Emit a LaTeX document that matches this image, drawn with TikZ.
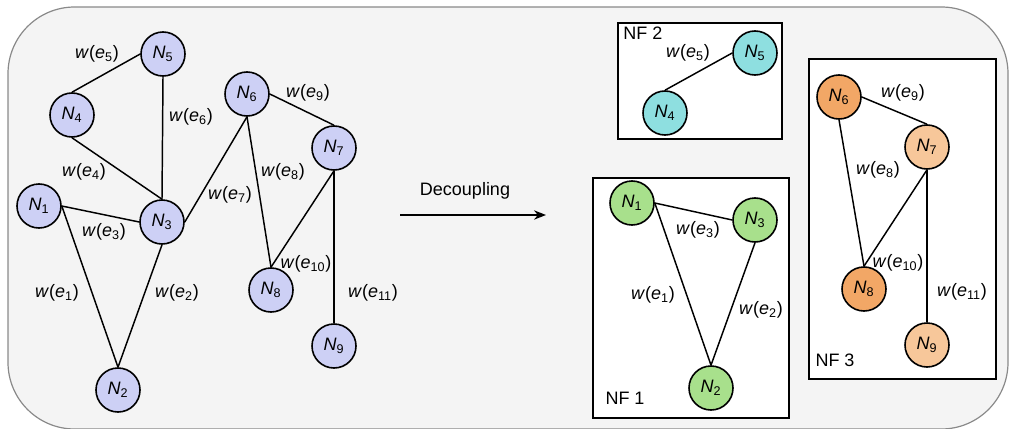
\documentclass[tikz,border=0pt]{standalone}
\usepackage{fontspec}
\setmainfont{Liberation Sans}
\usetikzlibrary{arrows.meta}
\definecolor{bgfill}{HTML}{F4F4F4}
\definecolor{bgline}{HTML}{8A8A8A}
\definecolor{lav}{HTML}{CDD0F5}
\definecolor{cyanf}{HTML}{8EDFE0}
\definecolor{greenf}{HTML}{A8E08C}
\definecolor{orgdark}{HTML}{F2A766}
\definecolor{orglight}{HTML}{F7C79A}
\newcommand{\nn}[1]{\textit{N}\textsubscript{#1}}
\newcommand{\wl}[1]{\textit{w}(\textit{e}\textsubscript{#1})}
\begin{document}
\begin{tikzpicture}[x=0.75pt,y=-0.75pt,
  font=\fontsize{13.5}{16}\selectfont,
  nd/.style={circle,draw=black,line width=1.2pt,minimum size=33pt,inner sep=0pt},
  lab/.style={inner sep=0pt},
  edge/.style={line width=1.1pt},
  nfbox/.style={draw=black,line width=1.4pt,fill=white}]
\useasboundingbox (0,0) rectangle (1009,428);
\draw[bgline,fill=bgfill,line width=0.9pt,rounded corners=50pt] (8,7) rectangle (1008,429);

% left graph
\node[nd,fill=lav] (n5) at (163,54) {\nn{5}};
\node[nd,fill=lav] (n4) at (72,115) {\nn{4}};
\node[nd,fill=lav] (n6) at (247,94) {\nn{6}};
\node[nd,fill=lav] (n7) at (334,148) {\nn{7}};
\node[nd,fill=lav] (n1) at (39,206) {\nn{1}};
\node[nd,fill=lav] (n3) at (162,222) {\nn{3}};
\node[nd,fill=lav] (n8) at (271,290) {\nn{8}};
\node[nd,fill=lav] (n9) at (334,346) {\nn{9}};
\node[nd,fill=lav] (n2) at (118,390) {\nn{2}};

\draw[edge] (n4.north) -- (n5.west);
\draw[edge] (n5.south) -- (n3.north);
\draw[edge] (n4.south) -- (n3.north);
\draw[edge] (n1.east) -- (n3.west);
\draw[edge] (n1.east) -- (n2.north);
\draw[edge] (n3.south) -- (n2.north);
\draw[edge] (n3.east) -- (n6.south);
\draw[edge] (n6.south) -- (n8.north);
\draw[edge] (n6.east) -- (n7.north);
\draw[edge] (n7.south) -- (n8.north);
\draw[edge] (n7.south) -- (n9.north);

\node[lab] (l5) at (97,54) {\wl{5}};
\node[lab] (l6) at (191,117) {\wl{6}};
\node[lab] (l4) at (84,172) {\wl{4}};
\node[lab] (l3) at (104,232) {\wl{3}};
\node[lab] (l7) at (230,195) {\wl{7}};
\node[lab] (l8) at (283,172) {\wl{8}};
\node[lab] (l9) at (308,93) {\wl{9}};
\node[lab] (l10) at (306,264) {\wl{10}};
\node[lab] (l11) at (373,293) {\wl{11}};
\node[lab] (l1) at (57,293) {\wl{1}};
\node[lab] (l2) at (177,293) {\wl{2}};

% arrow
\node[lab] (dec) at (465,191) {Decoupling};
\coordinate (as) at (400,215);
\coordinate (ae) at (546,215);
\draw[line width=1.1pt,-{Stealth[length=9pt,width=7pt]}] (as) -- (ae);

% NF2
\draw[nfbox] (618,23) rectangle (782,139);
\node[lab,anchor=north west] (nf2) at (623,27) {NF 2};
\node[nd,fill=cyanf] (m5) at (755,53) {\nn{5}};
\node[nd,fill=cyanf] (m4) at (665,113) {\nn{4}};
\draw[edge] (m4.north) -- (m5.west);
\node[lab] (k5) at (688,53) {\wl{5}};

% NF1
\draw[nfbox] (593,178) rectangle (789,418);
\node[lab] (nf1) at (625,398) {NF 1};
\node[nd,fill=greenf] (m1) at (632,203) {\nn{1}};
\node[nd,fill=greenf] (m3) at (755,220) {\nn{3}};
\node[nd,fill=greenf] (m2) at (711,388) {\nn{2}};
\draw[edge] (m1.east) -- (m3.west);
\draw[edge] (m1.east) -- (m2.north);
\draw[edge] (m3.south) -- (m2.north);
\node[lab] (k3) at (698,230) {\wl{3}};
\node[lab] (k1) at (653,295) {\wl{1}};
\node[lab] (k2) at (761,310) {\wl{2}};

% NF3
\draw[nfbox] (809,59) rectangle (996,379);
\node[lab] (nf3) at (835,360) {NF 3};
\node[nd,fill=orgdark] (m6) at (839,97) {\nn{6}};
\node[nd,fill=orglight] (m7) at (927,147) {\nn{7}};
\node[nd,fill=orgdark] (m8) at (864,289) {\nn{8}};
\node[nd,fill=orglight] (m9) at (927,345) {\nn{9}};
\draw[edge] (m6.east) -- (m7.north);
\draw[edge] (m6.south) -- (m8.north);
\draw[edge] (m7.south) -- (m8.north);
\draw[edge] (m7.south) -- (m9.north);
\node[lab] (k9) at (903,93) {\wl{9}};
\node[lab] (k8) at (878,170) {\wl{8}};
\node[lab] (k10) at (898,263) {\wl{10}};
\node[lab] (k11) at (962,292) {\wl{11}};
\end{tikzpicture}
\end{document}
